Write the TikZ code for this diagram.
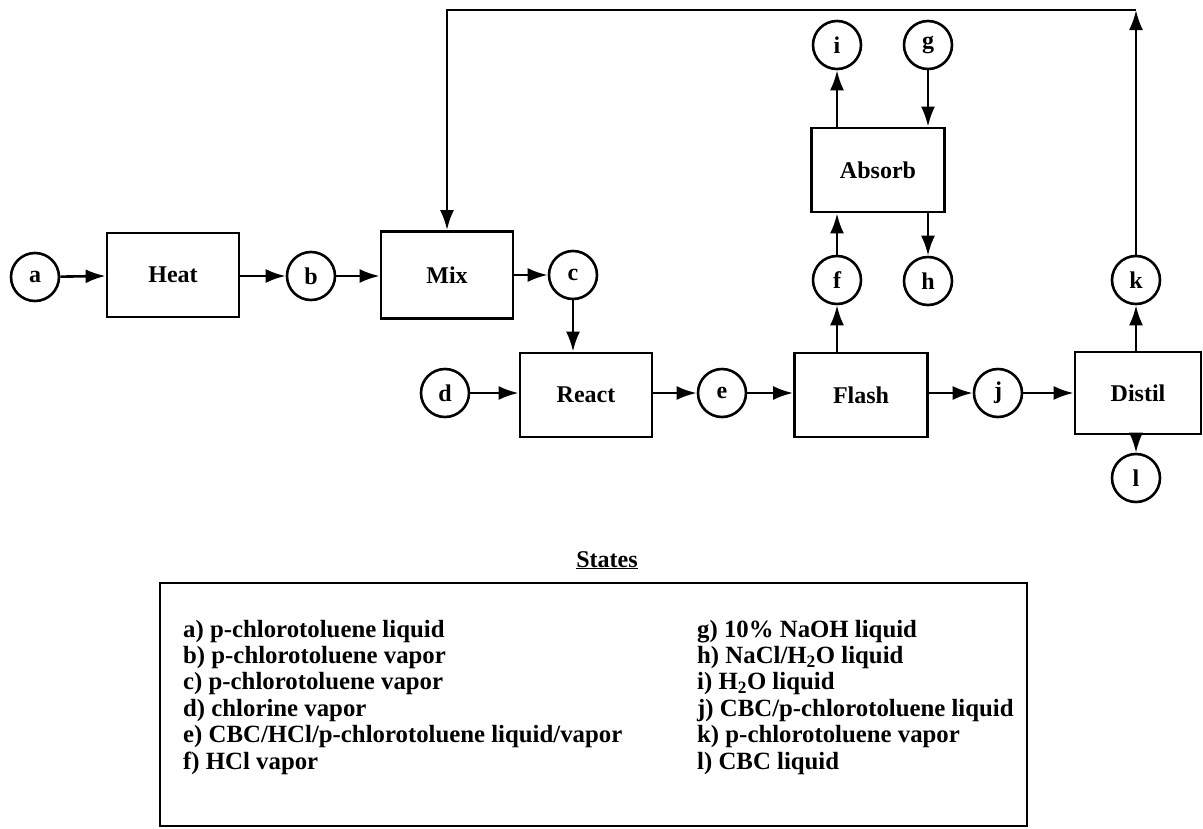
\documentclass[tikz,border=0pt]{standalone}
\usepackage{fontspec}
\setmainfont{Liberation Serif}
\usetikzlibrary{arrows.meta}
\begin{document}
\begin{tikzpicture}[x=1pt,y=-1pt,
  every node/.style={font=\bfseries\fontsize{24}{28}\selectfont},
  unit/.style={draw,line width=2.8pt,minimum width=132pt,minimum height=84pt,inner sep=0pt},
  st/.style={draw,circle,line width=2.6pt,minimum size=48pt,inner sep=0pt},
  arr/.style={line width=2.6pt,-{Latex[length=20pt,width=14pt]}},
  item/.style={anchor=base west,font=\bfseries\fontsize{24.8}{28}\selectfont,inner sep=0pt}]
\useasboundingbox (0,0) rectangle (1203,828);
% states
\node[st] (a) at (35,277) {a};
\node[st] (b) at (311,276) {b};
\node[st] (c) at (573,275) {c};
\node[st] (d) at (445,393) {d};
\node[st] (e) at (722,393) {e};
\node[st] (f) at (837,280) {f};
\node[st] (g) at (928,45) {g};
\node[st] (h) at (928,281) {h};
\node[st] (i) at (837,45) {i};
\node[st] (j) at (998,393) {j};
\node[st] (k) at (1136,280) {k};
\node[st] (l) at (1136,478) {l};
% units
\node[unit] (heat) at (173,275) {Heat};
\node[unit,minimum height=87pt] (mix) at (447,275) {Mix};
\node[unit] (react) at (586,395) {React};
\node[unit,minimum width=133pt] (flash) at (861,395) {Flash};
\node[unit,minimum width=133pt] (absorb) at (878,170) {Absorb};
\node[unit,minimum width=126pt,minimum height=82pt] (distil) at (1138,393) {Distil};
\coordinate (topR) at (1136,10);
\coordinate (topL) at (447,10);
% connectors
\draw[arr] (a) -- (heat);
\draw[arr] (heat.east |- b) -- (b);
\draw[arr] (b) -- (mix.west |- b);
\draw[arr] (mix.east |- c) -- (c);
\draw[arr] (c) -- (c |- react.north);
\draw[arr] (d) -- (react.west |- d);
\draw[arr] (react.east |- e) -- (e);
\draw[arr] (e) -- (flash.west |- e);
\draw[arr] (f |- flash.north) -- (f);
\draw[arr] (f) -- (f |- absorb.south);
\draw[arr] (i |- absorb.north) -- (i);
\draw[arr] (g) -- (g |- absorb.north);
\draw[arr] (h |- absorb.south) -- (h);
\draw[arr] (flash.east |- j) -- (j);
\draw[arr] (j) -- (distil.west |- j);
\draw[arr] (k |- distil.north) -- (k);
\draw[arr] (l |- distil.south) -- (l);
\draw[arr] (k) -- (topR);
\draw[arr,line join=miter] (topR) -- (topL) -- (mix.north);
% legend
\node[anchor=base,inner sep=0pt] (title) at (607,567) {\underline{States}};
\draw[line width=2.4pt] (160,583) rectangle (1027,826);
\node[item] (s1) at (183,637) {a) p-chlorotoluene liquid};
\node[item] (s2) at (183,663.4) {b) p-chlorotoluene vapor};
\node[item] (s3) at (183,689.8) {c) p-chlorotoluene vapor};
\node[item] (s4) at (183,716.2) {d) chlorine vapor};
\node[item] (s5) at (183,742.6) {e) CBC/HCl/p-chlorotoluene liquid/vapor};
\node[item] (s6) at (183,769) {f) HCl vapor};
\node[item] (s7) at (697,637) {g) 10\% NaOH liquid};
\node[item] (s8) at (697,663.4) {h) NaCl/H\textsubscript{2}O liquid};
\node[item] (s9) at (697,689.8) {i) H\textsubscript{2}O liquid};
\node[item] (s10) at (697,716.2) {j) CBC/p-chlorotoluene liquid};
\node[item] (s11) at (697,742.6) {k) p-chlorotoluene vapor};
\node[item] (s12) at (697,769) {l) CBC liquid};
\end{tikzpicture}
\end{document}
